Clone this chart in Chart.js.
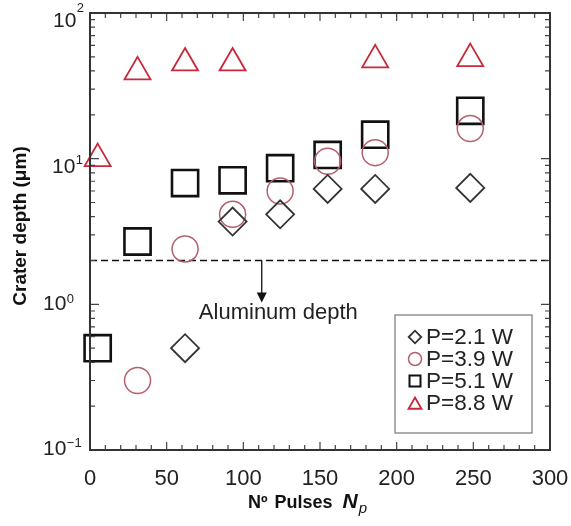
<!DOCTYPE html>
<html lang="en">
<head>
<meta charset="UTF-8">
<title>Crater depth</title>
<script src="https://cdn.jsdelivr.net/npm/chart.js@4.4.1/dist/chart.umd.min.js"></script>
<style>
  html, body { margin: 0; padding: 0; background: #fff; }
  #wrap { width: 571px; height: 526px; }
</style>
</head>
<body>
<div id="wrap"><canvas id="grafico" width="571" height="526"></canvas></div>
<script>
// dados
const pulsosP21 = [62, 93, 124, 155, 186, 248];
const profP21   = [0.5, 3.7, 4.15, 6.2, 6.2, 6.3];

const pulsosP39 = [31, 62, 93, 124, 155, 186, 248];
const profP39   = [0.30, 2.4, 4.15, 6.0, 9.6, 11.0, 16.1];

const pulsosP51 = [5, 31, 62, 93, 124, 155, 186, 248];
const profP51   = [0.5, 2.7, 6.8, 7.1, 8.6, 10.6, 14.6, 21.3];

const pulsosP88 = [5, 31, 62, 93, 186, 248];
const profP88   = [10.0, 39.4, 45.4, 45.4, 47.7, 48.6];

const rotulos = ['P=2.1 W', 'P=3.9 W', 'P=5.1 W', 'P=8.8 W'];
const xTicks = [0, 50, 100, 150, 200, 250, 300];
const yDecadas = [-1, 0, 1, 2];

const profAluminio = 2.0;       // linha tracejada
const setaX = 112;              // posicao da seta
const setaFim = 1.03;
const textoAluminio = 'Aluminum depth';

const FONTE = '"Liberation Sans", Arial, sans-serif';

function pontos(xs, ys) {
    let lista = [];
    for (let i = 0; i < xs.length; i++) {
        lista.push({ x: xs[i], y: ys[i] });
    }
    return lista;
}

const estilos = [
    { cor: '#333333', forma: 'rectRot', raio: 14, largura: 1.8 },
    { cor: '#b4606e', forma: 'circle', raio: 13, largura: 1.5 },
    { cor: '#111111', forma: 'rect', raio: 18.5, largura: 2.6 },
    { cor: '#c8283c', forma: 'triangle', raio: 15, largura: 1.8 }
];

const series = [
    pontos(pulsosP21, profP21),
    pontos(pulsosP39, profP39),
    pontos(pulsosP51, profP51),
    pontos(pulsosP88, profP88)
];

const datasets = series.map((d, i) => ({
    label: rotulos[i],
    data: d,
    showLine: false,
    clip: false,
    pointStyle: estilos[i].forma,
    pointRadius: estilos[i].raio,
    pointHoverRadius: estilos[i].raio,
    pointBorderWidth: estilos[i].largura,
    borderColor: estilos[i].cor,
    backgroundColor: 'rgba(0,0,0,0)'
}));

// posicao dos rotulos 10^n (esquerda, base do "10", base do expoente), como na figura
const posRotY = {
    '-1': [43, 5, -3],
    '0':  [43, 6, -1],
    '1':  [52, 14, 5],
    '2':  [53, 14, -1]
};

// desenha moldura, ticks, rotulos do eixo y, linha do aluminio e legenda
const extras = {
    id: 'extras',
    beforeDatasetsDraw(chart) {
        const ctx = chart.ctx;
        const a = chart.chartArea;
        const sy = chart.scales.y;
        const sx = chart.scales.x;

        // linha tracejada
        const yl = sy.getPixelForValue(profAluminio);
        ctx.save();
        ctx.strokeStyle = '#111';
        ctx.lineWidth = 1.6;
        ctx.setLineDash([7, 4]);
        ctx.beginPath();
        ctx.moveTo(a.left, yl);
        ctx.lineTo(a.right, yl);
        ctx.stroke();
        ctx.setLineDash([]);

        // seta
        const xs = sx.getPixelForValue(setaX);
        const yf = sy.getPixelForValue(setaFim);
        ctx.lineWidth = 1.3;
        ctx.beginPath();
        ctx.moveTo(xs, yl);
        ctx.lineTo(xs, yf - 9);
        ctx.stroke();
        ctx.fillStyle = '#111';
        ctx.beginPath();
        ctx.moveTo(xs - 5, yf - 10);
        ctx.lineTo(xs + 5, yf - 10);
        ctx.lineTo(xs, yf);
        ctx.closePath();
        ctx.fill();

        ctx.font = '22px ' + FONTE;
        ctx.fillStyle = '#222';
        ctx.textAlign = 'left';
        ctx.textBaseline = 'middle';
        ctx.fillText(textoAluminio, sx.getPixelForValue(71), sy.getPixelForValue(0.87));
        ctx.restore();
    },
    afterDraw(chart) {
        const ctx = chart.ctx;
        const a = chart.chartArea;
        const sy = chart.scales.y;
        const sx = chart.scales.x;
        ctx.save();

        // ticks do eixo x (dentro)
        ctx.strokeStyle = '#444';
        ctx.lineWidth = 1.2;
        for (let v = 0; v <= 300; v += 10) {
            const px = sx.getPixelForValue(v);
            const len = (v % 50 === 0) ? 8 : 5;
            ctx.beginPath();
            ctx.moveTo(px, a.bottom);
            ctx.lineTo(px, a.bottom - len);
            ctx.moveTo(px, a.top);
            ctx.lineTo(px, a.top + len);
            ctx.stroke();
        }

        // ticks do eixo y (log)
        for (let d = -1; d <= 1; d++) {
            for (let m = 1; m <= 9; m++) {
                const py = sy.getPixelForValue(m * Math.pow(10, d));
                const len = (m === 1) ? 9 : 5;
                ctx.beginPath();
                ctx.moveTo(a.left, py);
                ctx.lineTo(a.left + len, py);
                ctx.moveTo(a.right, py);
                ctx.lineTo(a.right - len, py);
                ctx.stroke();
            }
        }

        // moldura
        ctx.strokeStyle = '#333';
        ctx.lineWidth = 2;
        ctx.strokeRect(a.left, a.top, a.right - a.left, a.bottom - a.top);

        // rotulos y: 10^n
        ctx.fillStyle = '#222';
        ctx.textBaseline = 'alphabetic';
        ctx.textAlign = 'left';
        yDecadas.forEach(function (n) {
            const py = sy.getPixelForValue(Math.pow(10, n));
            const p = posRotY[String(n)];
            const exp = String(n).replace('-', '\u2212');
            ctx.font = '21px ' + FONTE;
            const wb = ctx.measureText('10').width;
            ctx.fillText('10', p[0], py + p[1]);
            ctx.font = '13px ' + FONTE;
            ctx.fillText(exp, p[0] + wb + 0.5, py + p[2]);
        });

        // titulo y
        ctx.save();
        ctx.translate(21, 226);
        ctx.rotate(-Math.PI / 2);
        ctx.font = 'bold 19px ' + FONTE;
        ctx.textAlign = 'center';
        ctx.textBaseline = 'middle';
        ctx.fillStyle = '#111';
        ctx.fillText('Crater depth (\u03bcm)', 0, 0);
        ctx.restore();

        // titulo x: Nº Pulses N_p
        const yb = 508;
        let xt = 248;
        ctx.fillStyle = '#111';
        ctx.textAlign = 'left';
        ctx.font = 'bold 18px ' + FONTE;
        ctx.fillText('N\u00ba', xt, yb);
        xt += ctx.measureText('N\u00ba').width + 7;
        ctx.fillText('Pulses', xt, yb);
        xt += ctx.measureText('Pulses').width + 10;
        ctx.font = 'italic bold 21px ' + FONTE;
        ctx.fillText('N', xt, yb);
        xt += ctx.measureText('N').width + 1;
        ctx.font = 'italic 15px ' + FONTE;
        ctx.fillText('p', xt, yb + 5);

        // legenda
        const lx = 395, ly = 315, lw = 137, lh = 118;
        ctx.fillStyle = '#fff';
        ctx.fillRect(lx, ly, lw, lh);
        ctx.strokeStyle = '#777';
        ctx.lineWidth = 1.2;
        ctx.strokeRect(lx, ly, lw, lh);
        const linhas = [337, 359, 381, 403];
        const escala = [0.45, 0.5, 0.42, 0.5];
        rotulos.forEach(function (txt, i) {
            const e = estilos[i];
            ctx.strokeStyle = e.cor;
            ctx.fillStyle = 'rgba(0,0,0,0)';
            ctx.lineWidth = Math.min(e.largura, 2);
            Chart.helpers.drawPoint(ctx, {
                pointStyle: e.forma,
                radius: e.raio * escala[i],
                borderWidth: Math.min(e.largura, 2),
                rotation: 0
            }, 415, linhas[i] + (e.forma === 'triangle' ? 2 : 0));
            ctx.fillStyle = '#222';
            ctx.font = '22.5px ' + FONTE;
            ctx.textAlign = 'left';
            ctx.textBaseline = 'middle';
            ctx.fillText(txt, 426, linhas[i] + 1);
        });

        ctx.restore();
    }
};

const config = {
    type: 'scatter',
    data: { datasets: datasets },
    options: {
        responsive: false,
        animation: false,
        events: [],
        layout: { autoPadding: false, padding: { top: 13, right: 21, left: 0, bottom: 0 } },
        plugins: { legend: { display: false }, tooltip: { enabled: false } },
        scales: {
            x: {
                type: 'linear',
                min: 0,
                max: 300,
                afterFit: function (s) {
                    s.height = 76;
                    s.paddingLeft = 0;
                    s.paddingRight = 0;
                },
                afterBuildTicks: function (s) { s.ticks = xTicks.map(v => ({ value: v })); },
                grid: { display: false },
                border: { display: false },
                ticks: {
                    padding: 8,
                    color: '#222',
                    font: { family: FONTE, size: 22 }
                }
            },
            y: {
                type: 'logarithmic',
                min: 0.1,
                max: 100,
                afterFit: function (s) { s.width = 90; },
                grid: { display: false },
                border: { display: false },
                ticks: { display: false }
            }
        }
    },
    plugins: [extras]
};

let myChart = new Chart(document.getElementById('grafico'), config);
</script>
</body>
</html>
